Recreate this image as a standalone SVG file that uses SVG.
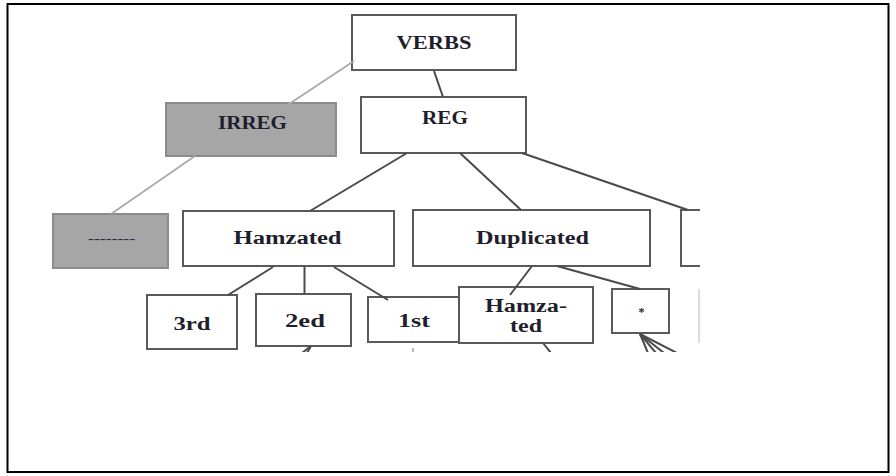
<svg xmlns="http://www.w3.org/2000/svg" width="896" height="476" viewBox="0 0 896 476">
<defs>
<style>
.box{fill:#fff;stroke:#5a5a5a;stroke-width:2}
.gbox{fill:#a6a6a6;stroke:#8c8c8c;stroke-width:2}
.t{font-family:"Liberation Serif","Times New Roman",serif;font-weight:bold;font-size:18px;fill:#1e1e2c}
.ln{stroke:#4a4a4a;stroke-width:2;fill:none}
.lg{stroke:#a8a8a8;stroke-width:1.6;fill:none}
</style>
<clipPath id="crop"><rect x="0" y="0" width="700" height="352"/></clipPath>
</defs>
<rect x="0" y="0" width="896" height="476" fill="#fff"/>
<rect x="7.5" y="4" width="881" height="468" fill="none" stroke="#000" stroke-width="2"/>
<g clip-path="url(#crop)">
<g id="verbs"><rect class="box" x="352" y="15" width="164" height="55"/><text class="t" x="396.5" y="49" textLength="75" lengthAdjust="spacingAndGlyphs">VERBS</text></g>
<g id="reg"><rect class="box" x="361" y="97" width="165" height="56"/><text class="t" x="422" y="124" textLength="46" lengthAdjust="spacingAndGlyphs">REG</text></g>
<g id="irreg"><rect class="gbox" x="166" y="103" width="170" height="53"/><text class="t" x="218" y="129" textLength="69" lengthAdjust="spacingAndGlyphs">IRREG</text></g>
<g id="dashes"><rect class="gbox" x="53" y="214" width="115" height="54"/><text class="t" x="88" y="243" font-size="12" textLength="47" lengthAdjust="spacingAndGlyphs" style="font-size:12px;fill:#2a2a50">--------</text></g>
<g id="hamzated"><rect class="box" x="183" y="211" width="211" height="55"/><text class="t" x="233.5" y="244" textLength="108" lengthAdjust="spacingAndGlyphs">Hamzated</text></g>
<g id="duplicated"><rect class="box" x="413" y="210" width="237" height="56"/><text class="t" x="476" y="244" textLength="113" lengthAdjust="spacingAndGlyphs">Duplicated</text></g>
<g id="right-box"><rect class="box" x="681" y="210" width="60" height="56"/></g>
<g id="third"><rect class="box" x="147" y="295" width="90" height="54"/><text class="t" x="173.5" y="330" textLength="37" lengthAdjust="spacingAndGlyphs">3rd</text></g>
<g id="second"><rect class="box" x="256" y="294" width="95" height="52"/><text class="t" x="285" y="326.5" textLength="40" lengthAdjust="spacingAndGlyphs">2ed</text></g>
<g id="first"><rect class="box" x="368" y="297" width="91" height="45"/><text class="t" x="398" y="326.5" textLength="32" lengthAdjust="spacingAndGlyphs">1st</text></g>
<g id="hamza-ted"><rect class="box" x="459" y="287" width="134" height="56"/><text class="t" x="485" y="312" textLength="82" lengthAdjust="spacingAndGlyphs">Hamza-</text><text class="t" x="510" y="332" textLength="32" lengthAdjust="spacingAndGlyphs">ted</text></g>
<g id="star"><rect class="box" x="612" y="289" width="57" height="44"/><text class="t" x="638.5" y="316" style="font-size:12px">*</text></g>
<g id="right-box-2"><line x1="699" y1="289" x2="699" y2="343" stroke="#cfcfcf" stroke-width="1.5"/></g>
<g id="connectors">
<line class="lg" x1="354" y1="61" x2="283" y2="108"/>
<line class="lg" x1="195" y1="156" x2="111" y2="214"/>
<line class="ln" x1="434" y1="71" x2="443" y2="97"/>
<line class="ln" x1="407" y1="153" x2="310" y2="211"/>
<line class="ln" x1="460" y1="153" x2="521" y2="210"/>
<line class="ln" x1="522" y1="153" x2="688" y2="210"/>
<line class="ln" x1="273" y1="267" x2="228" y2="295"/>
<line class="ln" x1="304.5" y1="267" x2="304.5" y2="294"/>
<line class="ln" x1="334" y1="267" x2="388" y2="300"/>
<line class="ln" x1="532" y1="266" x2="510" y2="295"/>
<line class="ln" x1="557" y1="266" x2="640" y2="289"/>
<line class="ln" x1="311" y1="346" x2="302" y2="353"/>
<line class="ln" x1="311" y1="346" x2="307" y2="353"/>
<line class="lg" x1="413" y1="348" x2="413" y2="353"/>
<line class="ln" x1="543" y1="343" x2="551" y2="353"/>
<line class="ln" x1="640" y1="334" x2="648" y2="353"/>
<line class="ln" x1="640" y1="334" x2="656" y2="353"/>
<line class="ln" x1="640" y1="334" x2="664" y2="353"/>
<line class="ln" x1="640" y1="334" x2="677" y2="353"/>
</g>
</g>
</svg>
